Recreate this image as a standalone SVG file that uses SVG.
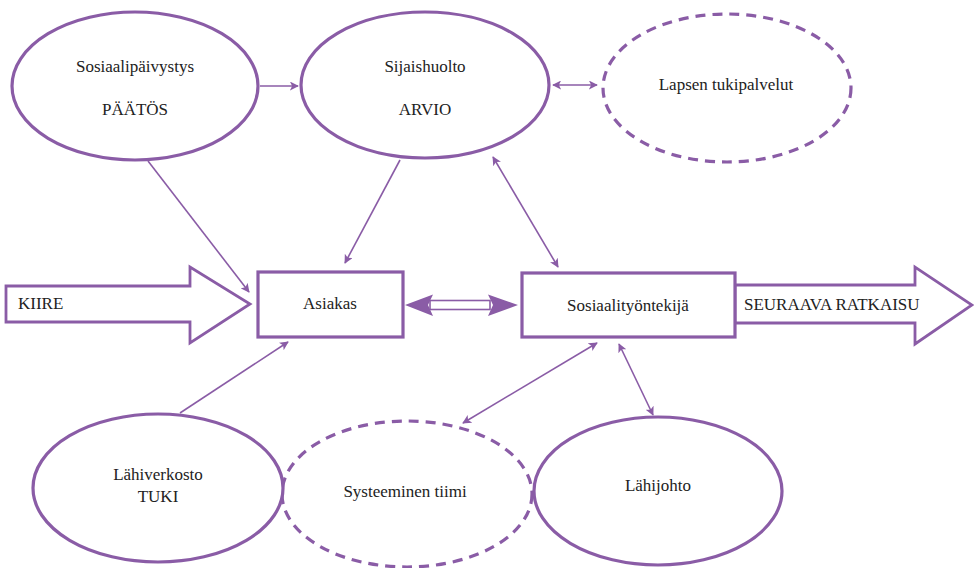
<svg xmlns="http://www.w3.org/2000/svg" width="974" height="568" viewBox="0 0 974 568">
<defs>
<style>
.n{fill:#fff;stroke:#8a5ca6;stroke-width:3.2}
.d{fill:#fff;stroke:#8a5ca6;stroke-width:3.2;stroke-dasharray:10 7}
.c{fill:none;stroke:#8a5ca6;stroke-width:1.6}
text{font-family:'Liberation Serif','Times New Roman',serif;font-size:17px;fill:#222}
.t{text-anchor:middle}
.big{fill:#fff;stroke:#8a5ca6;stroke-width:2.8;stroke-linejoin:miter}
</style>
<marker id="ah" viewBox="0 0 10 10" refX="9" refY="5" markerWidth="9" markerHeight="9" markerUnits="userSpaceOnUse" orient="auto-start-reverse">
<path d="M0,0 L10,5 L0,10 L2.5,5 Z" fill="#8a5ca6"/>
</marker>
</defs>
<rect width="974" height="568" fill="#fff"/>
<g id="connectors">
<line class="c" x1="260" y1="86" x2="298" y2="86" marker-end="url(#ah)"/>
<line class="c" x1="553" y1="85" x2="597" y2="85" marker-start="url(#ah)" marker-end="url(#ah)"/>
<line class="c" x1="148" y1="161" x2="249" y2="292" marker-end="url(#ah)"/>
<line class="c" x1="400" y1="160" x2="345" y2="263" marker-end="url(#ah)"/>
<line class="c" x1="493" y1="157" x2="558" y2="267" marker-start="url(#ah)" marker-end="url(#ah)"/>
<line class="c" x1="180" y1="413" x2="288" y2="342" marker-end="url(#ah)"/>
<line class="c" x1="597" y1="343" x2="463" y2="423" marker-start="url(#ah)" marker-end="url(#ah)"/>
<line class="c" x1="619" y1="344" x2="653" y2="415" marker-start="url(#ah)" marker-end="url(#ah)"/>
<g id="double-arrow">
<rect x="430" y="300.5" width="60" height="9" fill="#fff" stroke="#8a5ca6" stroke-width="1.6"/>
<path d="M405,305 L433,294.5 L428,305 L433,316 Z" fill="#8a5ca6"/>
<path d="M518,305 L488,294.5 L493,305 L488,316 Z" fill="#8a5ca6"/>
</g>
</g>
<g id="kiire">
<path class="big" d="M6,286 L190,286 L190,267 L250,304 L190,343 L190,322 L6,322 Z"/>
<text x="18" y="309">KIIRE</text>
</g>
<g id="seuraava">
<path class="big" d="M735,285 L915,285 L915,267 L972,305 L915,344 L915,323 L735,323 Z"/>
<text x="744" y="310">SEURAAVA RATKAISU</text>
</g>
<g id="sosiaalipaivystys">
<ellipse class="n" cx="135" cy="86" rx="123" ry="74"/>
<text class="t" x="135" y="72">Sosiaalipäivystys</text>
<text class="t" x="135" y="115">PÄÄTÖS</text>
</g>
<g id="sijaishuolto">
<ellipse class="n" cx="425" cy="85" rx="124" ry="73"/>
<text class="t" x="425" y="72">Sijaishuolto</text>
<text class="t" x="425" y="115">ARVIO</text>
</g>
<g id="lapsen">
<ellipse class="d" cx="727" cy="88" rx="124" ry="74"/>
<text class="t" x="726" y="90">Lapsen tukipalvelut</text>
</g>
<g id="asiakas">
<rect class="n" x="258" y="272" width="145" height="65"/>
<text class="t" x="330" y="309">Asiakas</text>
</g>
<g id="sosiaalityontekija">
<rect class="n" x="522" y="273" width="213" height="64"/>
<text class="t" x="628" y="311">Sosiaalityöntekijä</text>
</g>
<g id="systeeminen">
<ellipse class="d" cx="407" cy="494" rx="125" ry="73"/>
<text class="t" x="405" y="497">Systeeminen tiimi</text>
</g>
<g id="lahiverkosto">
<ellipse class="n" cx="158" cy="488" rx="125" ry="74"/>
<text class="t" x="158" y="480">Lähiverkosto</text>
<text class="t" x="158" y="502">TUKI</text>
</g>
<g id="lahijohto">
<ellipse class="n" cx="658" cy="491" rx="124" ry="74"/>
<text class="t" x="658" y="491">Lähijohto</text>
</g>
</svg>
